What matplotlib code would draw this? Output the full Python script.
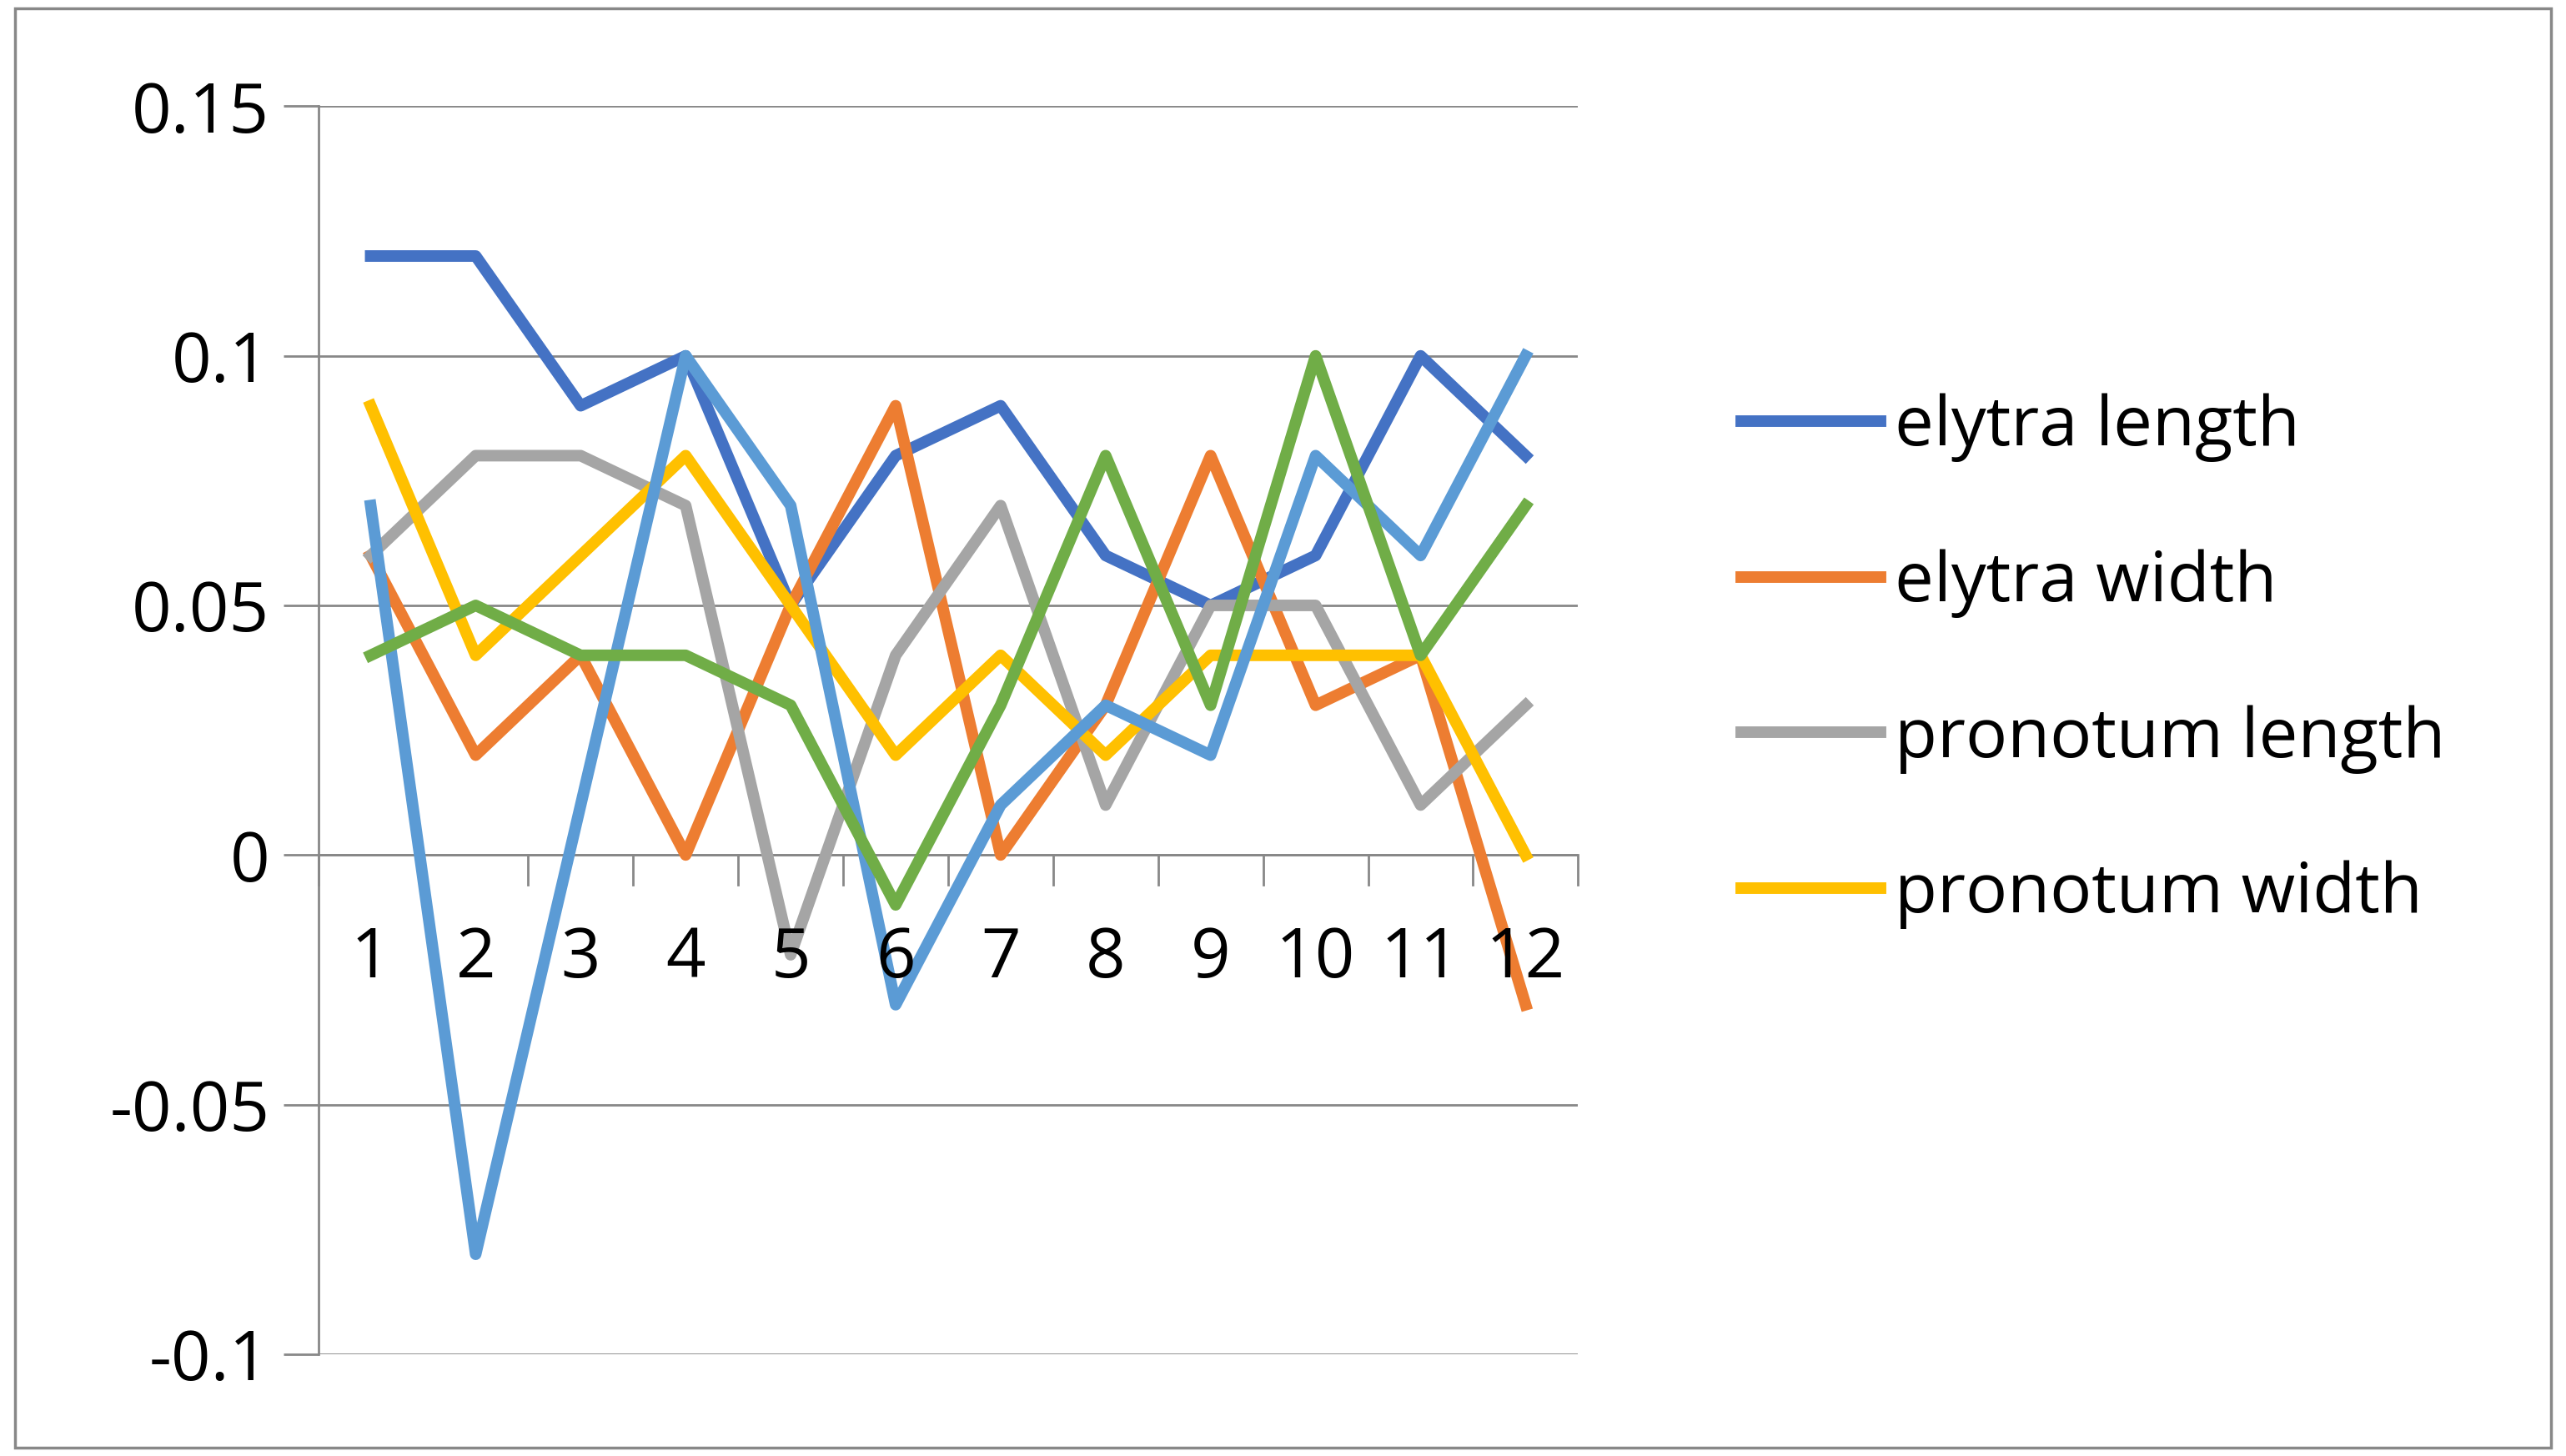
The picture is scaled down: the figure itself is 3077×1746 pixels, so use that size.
import matplotlib
matplotlib.use("Agg")
import matplotlib.pyplot as plt
from matplotlib.patches import Rectangle

categories = [str(i) for i in range(1, 13)]
elytra_length = [0.12,0.12,0.09,0.10,0.05,0.08,0.09,0.06,0.05,0.06,0.10,0.08]
elytra_width = [0.06,0.02,0.04,0.00,0.05,0.09,0.00,0.03,0.08,0.03,0.04,-0.03]
pronotum_length = [0.06,0.08,0.08,0.07,-0.02,0.04,0.07,0.01,0.05,0.05,0.01,0.03]
pronotum_width = [0.09,0.04,0.06,0.08,0.05,0.02,0.04,0.02,0.04,0.04,0.04,0.00]
series5 = [0.07,-0.08,0.01,0.10,0.07,-0.03,0.01,0.03,0.02,0.08,0.06,0.10]
series6 = [0.04,0.05,0.04,0.04,0.03,-0.01,0.03,0.08,0.03,0.10,0.04,0.07]
yticks = [-0.1, -0.05, 0, 0.05, 0.1, 0.15]
ylabels = ["-0.1", "-0.05", "0", "0.05", "0.1", "0.15"]

plt.rcParams['font.family'] = ['Open Sans', 'DejaVu Sans']
fig = plt.figure(figsize=(30.77, 17.46), dpi=100)
fig.patches.append(Rectangle((0.006, 0.006), 0.988, 0.988, transform=fig.transFigure,
                             fill=False, edgecolor='#888888', linewidth=2.5))
ax = fig.add_axes([0.124, 0.070, 0.491, 0.857])
x = list(range(len(categories)))
lw = 10
ax.plot(x, elytra_length, color='#4472C4', lw=lw, label='elytra length')
ax.plot(x, elytra_width, color='#ED7D31', lw=lw, label='elytra width')
ax.plot(x, pronotum_length, color='#A5A5A5', lw=lw, label='pronotum length')
ax.plot(x, pronotum_width, color='#FFC000', lw=lw, label='pronotum width')
ax.plot(x, series5, color='#5B9BD5', lw=lw, label='_s5')
ax.plot(x, series6, color='#70AD47', lw=lw, label='_s6')

ax.set_xlim(-0.5, 11.5)
ax.set_ylim(-0.1, 0.15)
ax.set_yticks(yticks)
ax.set_yticklabels(ylabels, fontsize=60)
ax.tick_params(axis='y', length=30, color='#888888', width=2, pad=12)
for s in ['top', 'right', 'bottom']:
    ax.spines[s].set_visible(False)
ax.spines['left'].set_color('#888888'); ax.spines['left'].set_linewidth(2)
ax.yaxis.grid(True, color='#888888', lw=2)
ax.set_axisbelow(True)
ax.set_xticks([])
ax.axhline(0, color='#888888', lw=2, zorder=1)
for b in [i - 0.5 for i in range(13)]:
    ax.plot([b, b], [0, -0.006], color='#888888', lw=2, clip_on=False, zorder=1)
for i, c in enumerate(categories):
    ax.text(i, -0.021, c, ha='center', va='center', fontsize=60)

ax.legend(loc='upper left', bbox_to_anchor=(1.08, 0.82), frameon=False,
          fontsize=60, handlelength=2.0, labelspacing=1.25, handletextpad=0.2)
fig.savefig('out.png', dpi=100)
